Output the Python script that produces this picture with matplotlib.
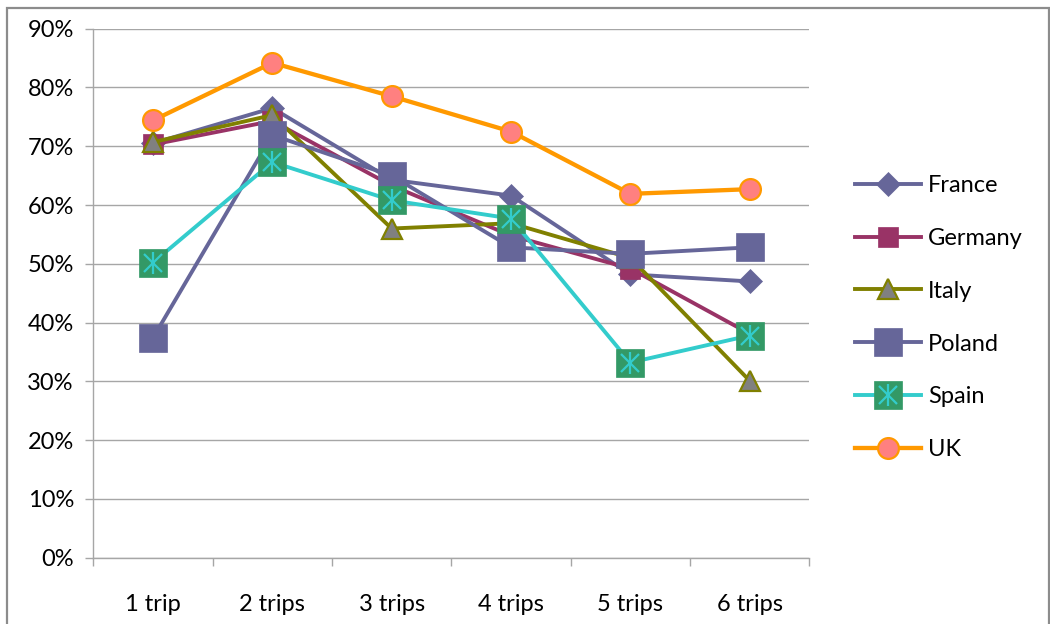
import numpy as np
import matplotlib
matplotlib.use("Agg")
import matplotlib.pyplot as plt
from matplotlib.ticker import FuncFormatter, FixedLocator
from matplotlib.legend_handler import HandlerTuple
from matplotlib.patches import Rectangle

plt.rcParams['font.family'] = ['Lato', 'DejaVu Sans']

# share of respondents by number of trips
trips = ['1 trip', '2 trips', '3 trips', '4 trips', '5 trips', '6 trips']
france = [0.705, 0.765, 0.643, 0.616, 0.482, 0.470]
germany = [0.703, 0.743, 0.633, 0.548, 0.492, 0.381]
italy = [0.707, 0.753, 0.560, 0.569, 0.510, 0.301]
poland = [0.374, 0.719, 0.650, 0.528, 0.517, 0.528]
spain = [0.502, 0.673, 0.608, 0.577, 0.332, 0.378]
uk = [0.744, 0.842, 0.785, 0.725, 0.619, 0.627]

fig = plt.figure(figsize=(10.5, 6.24), dpi=100)
ax = fig.add_axes([0.0889, 0.1063, 0.6819, 0.8477])

x = np.arange(len(trips))
lw = 2.8
fs = 17

h_fr, = ax.plot(x, france, color='#666699', lw=lw, marker='D', ms=12,
                mfc='#666699', mec='#666699', mew=0.5, zorder=3, label='France')
h_de, = ax.plot(x, germany, color='#993366', lw=lw, marker='s', ms=14,
                mfc='#993366', mec='#993366', mew=0.5, zorder=4, label='Germany')
h_it, = ax.plot(x, italy, color='#808000', lw=lw, marker='^', ms=15,
                mfc='#808080', mec='#808000', mew=1.6, zorder=5, label='Italy')
h_pl, = ax.plot(x, poland, color='#666699', lw=lw, marker='s', ms=20,
                mfc='#666699', mec='#666699', mew=0.5, zorder=6, label='Poland')
h_es, = ax.plot(x, spain, color='#33CCCC', lw=lw, marker='s', ms=20,
                mfc='#339966', mec='#339966', mew=0.5, zorder=7, label='Spain')
# asterisk drawn over the green squares
h_esx, = ax.plot(x, spain, ls='none', marker='x', ms=13, mec='#33CCCC', mew=1.6, zorder=7.1)
h_esv, = ax.plot(x, spain, ls='none', marker='|', ms=16, mec='#33CCCC', mew=1.6, zorder=7.2)
h_uk, = ax.plot(x, uk, color='#FF9900', lw=3.1, marker='o', ms=15,
                mfc='#FF8080', mec='#FF9900', mew=1.6, zorder=8, label='UK')

ax.set_xlim(-0.5, len(trips) - 0.5)
ax.set_ylim(0, 0.9)
ax.set_yticks(np.arange(0, 0.91, 0.1))
ax.yaxis.set_major_formatter(FuncFormatter(lambda v, p: f'{v*100:.0f}%'))
ax.set_xticks(x)
ax.set_xticklabels(trips)
ax.xaxis.set_minor_locator(FixedLocator(np.arange(-0.5, len(trips), 1.0)))

ax.grid(axis='y', color='#a6a6a6', lw=1.0, zorder=0)
ax.set_axisbelow(True)
for s in ['top', 'right']:
    ax.spines[s].set_visible(False)
for s in ['left', 'bottom']:
    ax.spines[s].set_color('#a6a6a6')
    ax.spines[s].set_linewidth(1.0)

ax.tick_params(axis='y', length=6, width=1, color='#a6a6a6', pad=8, labelsize=fs)
ax.tick_params(axis='x', which='major', length=0, pad=26, labelsize=fs)
ax.tick_params(axis='x', which='minor', length=6, width=1, color='#a6a6a6')

leg = fig.legend([h_fr, h_de, h_it, h_pl, (h_es, h_esx, h_esv), h_uk],
                 ['France', 'Germany', 'Italy', 'Poland', 'Spain', 'UK'],
                 handler_map={tuple: HandlerTuple(ndivide=1)},
                 loc='center left', bbox_to_anchor=(855 / 1050, 0.491),
                 frameon=False, fontsize=fs, numpoints=1,
                 handlelength=2.8, handletextpad=0.3, labelspacing=1.35,
                 borderpad=0, borderaxespad=0)

# chart area border
fig.add_artist(Rectangle((7 / 1050, -0.05), 1042 / 1050, 1.05 - 8 / 624,
                         transform=fig.transFigure, fill=False,
                         edgecolor='#8c8c8c', lw=1.6, clip_on=False))

fig.savefig('out.png', dpi=100)
